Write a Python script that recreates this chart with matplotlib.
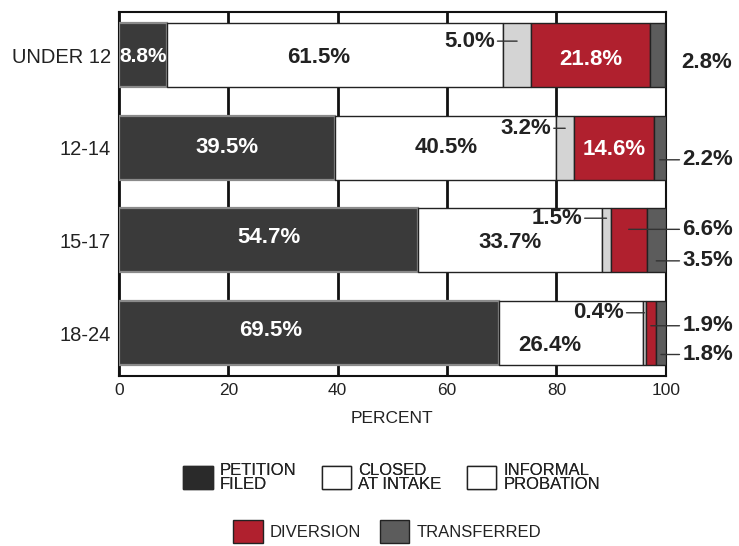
import matplotlib.pyplot as plt
from matplotlib.patches import Patch

# data
groups = ['UNDER 12', '12-14', '15-17', '18-24']
petition = [8.8, 39.5, 54.7, 69.5]
closed = [61.5, 40.5, 33.7, 26.4]
informal = [5.0, 3.2, 1.5, 0.4]
diversion = [21.8, 14.6, 6.6, 1.9]
transferred = [2.8, 2.2, 3.5, 1.8]
xticks = [0, 20, 40, 60, 80, 100]

plt.rcParams['font.family'] = ['Liberation Sans', 'DejaVu Sans']

series = [
    ('PETITION\nFILED', petition, '#3a3a3a', '#8a8a8a'),
    ('CLOSED\nAT INTAKE', closed, 'white', '#222222'),
    ('INFORMAL\nPROBATION', informal, '#d4d4d4', '#222222'),
    ('DIVERSION', diversion, '#b0202e', '#222222'),
    ('TRANSFERRED', transferred, '#5c5c5c', '#222222'),
]

fig = plt.figure(figsize=(7.39, 5.46), dpi=100)
ax = fig.add_axes([0.161, 0.311, 0.740, 0.667])

y = list(range(len(groups)))
left = [0.0] * len(groups)
starts = {}
for name, vals, fc, ec in series:
    starts[name] = list(left)
    ax.barh(y, vals, left=left, height=0.69, color=fc, edgecolor=ec,
            linewidth=1.6 if fc == '#3a3a3a' else 1.0, zorder=3)
    left = [l + v for l, v in zip(left, vals)]

ax.set_xlim(0, 100)
ax.set_ylim(3.464, -0.464)
ax.set_xticks(xticks)
ax.set_xticklabels([str(t) for t in xticks], fontsize=12.5, color='#222222')
ax.set_yticks(y)
ax.set_yticklabels(groups, fontsize=14.5, color='#222222')
ax.tick_params(axis='x', length=0, pad=5)
ax.tick_params(axis='y', length=0, pad=6)
ax.xaxis.grid(True, color='#111111', linewidth=2, zorder=0)
for s in ax.spines.values():
    s.set_color('#111111')
    s.set_linewidth(1.5)
ax.set_xlabel('PERCENT', fontsize=12.5, color='#222222', labelpad=9)

FS = 16
bold = dict(fontsize=FS, fontweight='bold', ha='center', va='center')
pk, ck, ik, dk, tk = [s[0] for s in series]

def mid(key, vals, i):
    return starts[key][i] + vals[i] / 2

# petition filed labels (white)
p_off = [(0, 0.02), (0, 0.0), (0, -0.03), (-7.0, -0.03)]
for i in range(4):
    dx, dy = p_off[i]
    fs = 15 if i == 0 else FS
    ax.text(mid(pk, petition, i) + dx, i + dy, f'{petition[i]}%', color='white',
            fontsize=fs, fontweight='bold', ha='center', va='center')
ax.text(mid(dk, diversion, 0), 0.05, f'{diversion[0]}%', color='white', **bold)
ax.text(mid(dk, diversion, 1), 1.02, f'{diversion[1]}%', color='white', **bold)

# closed at intake labels
c_off = [(-3.0, 0.03), (0, 0.0), (0, 0.02), (-4.0, 0.13)]
for i in range(4):
    dx, dy = c_off[i]
    ax.text(mid(ck, closed, i) + dx, i + dy, f'{closed[i]}%', color='#222222', **bold)

# informal probation leaders
i_lab = [(-4.1, -0.15), (-2.6, -0.21), (-4.5, -0.24), (-3.8, -0.22)]
for i in range(4):
    xm = mid(ik, informal, i)
    dx, dy = i_lab[i]
    ax.annotate(f'{informal[i]}%', xy=(xm, i + dy), xytext=(xm + dx, i + dy),
                color='#222222', fontsize=FS, fontweight='bold', ha='right',
                va='center',
                arrowprops=dict(arrowstyle='-', color='#333333', lw=1,
                                shrinkA=0, shrinkB=0))

# right-side labels
ax.text(107.5, 0.08, f'{transferred[0]}%', color='#222222', **bold)
right = [(1, tk, transferred, 0.13), (2, dk, diversion, -0.12),
         (2, tk, transferred, 0.22), (3, dk, diversion, -0.08),
         (3, tk, transferred, 0.23)]
for i, key, vals, dy in right:
    xm = mid(key, vals, i)
    ax.annotate(f'{vals[i]}%', xy=(xm, i + dy), xytext=(103.0, i + dy),
                color='#222222', fontsize=FS, fontweight='bold', ha='left',
                va='center', annotation_clip=False,
                arrowprops=dict(arrowstyle='-', color='#333333', lw=1,
                                shrinkA=0, shrinkB=0))

# legend in two rows
h = [Patch(facecolor=fc, edgecolor='#222222', linewidth=1, label=n)
     for n, _, fc, _ in series]
h[0] = Patch(facecolor='#2a2a2a', edgecolor='#2a2a2a', linewidth=1, label=pk)
h[2] = Patch(facecolor='white', edgecolor='#222222', linewidth=1, label=ik)
leg_kw = dict(frameon=False, fontsize=12, handlelength=1.75, handleheight=1.75,
              handletextpad=0.45)
leg1 = fig.legend(handles=h[:3], loc='center', bbox_to_anchor=(0.53, 0.126),
                  ncol=3, columnspacing=1.5, **leg_kw)
for t in leg1.get_texts():
    t.set_linespacing(0.9)
    t.set_color('#222222')
leg2 = fig.legend(handles=h[3:], loc='center', bbox_to_anchor=(0.524, 0.026),
                  ncol=2, columnspacing=1.1, **leg_kw)
for t in leg2.get_texts():
    t.set_color('#222222')
fig.add_artist(leg1)

fig.savefig('out.png', dpi=100)
